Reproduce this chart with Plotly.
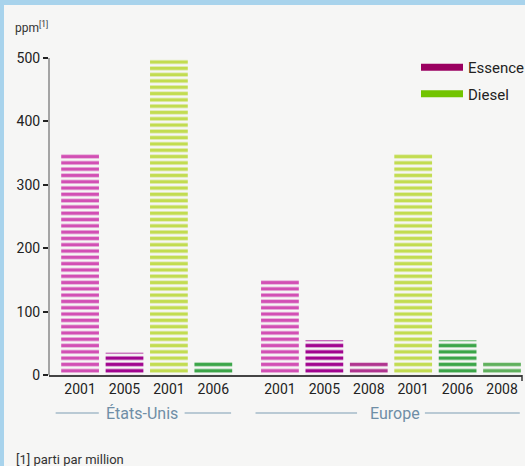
import plotly.graph_objects as go

# ---- data ----
groups = ["États-Unis", "Europe"]
essence_years = [["2001", "2005"], ["2001", "2005", "2008"]]
essence_values = [[350, 35], [150, 55, 20]]
diesel_years = [["2001", "2006"], ["2001", "2006", "2008"]]
diesel_values = [[500, 22], [350, 55, 20]]
y_ticks = [0, 100, 200, 300, 400, 500]

# ---- styles ----
ess_colors = {"2001": "#d24fb4", "2005": "#a1058f", "2008": "#b0348f"}
die_colors = {"2001": "#c2dc50", "2006": "#3ba548", "2008": "#5fb05c"}
FONT = "Roboto, Liberation Sans Narrow, sans-serif"

# positions: bars in order, with half a slot gap between groups
ess_x, ess_y, ess_c = [], [], []
die_x, die_y, die_c = [], [], []
tickvals, ticktext = [], []
group_spans = []
pos = 0.0
for g in range(len(groups)):
    start = pos
    for yr, v in zip(essence_years[g], essence_values[g]):
        ess_x.append(pos); ess_y.append(v); ess_c.append(ess_colors[yr])
        tickvals.append(pos); ticktext.append(yr)
        pos += 1
    for yr, v in zip(diesel_years[g], diesel_values[g]):
        die_x.append(pos); die_y.append(v); die_c.append(die_colors[yr])
        tickvals.append(pos); ticktext.append(yr)
        pos += 1
    group_spans.append((start, pos - 1))
    pos += 0.5

fig = go.Figure()
for xs, ys, cs, name in [(ess_x, ess_y, ess_c, "Essence"), (die_x, die_y, die_c, "Diesel")]:
    fig.add_trace(go.Bar(
        x=xs, y=ys, width=0.85, showlegend=False, name=name, opacity=1,
        marker=dict(color="rgba(0,0,0,0)", opacity=1, line=dict(width=0),
                    pattern=dict(shape="-", fgcolor=cs, fgopacity=1, bgcolor="rgba(0,0,0,0)",
                                 size=6.3, solidity=0.55, fillmode="overlay")),
    ))

# legend entries
fig.add_trace(go.Scatter(x=[None], y=[None], mode="lines", name="Essence", legendgroup="e",
                         line=dict(color="#9a0060", width=7)))
fig.add_trace(go.Scatter(x=[None], y=[None], mode="lines", name="Diesel", legendgroup="d",
                         line=dict(color="#72c400", width=7)))

W, H = 525, 466
L, R, T, B = 49, 3, 40, 91
pw, ph = W - L - R, H - T - B

def px(p):
    return (p - L) / pw

def py(q):
    return (H - B - q) / ph

shapes = [
    # panel background inside the light blue frame
    dict(type="rect", xref="paper", yref="paper", x0=px(4), x1=px(W + 5), y0=py(H + 5), y1=py(5),
         fillcolor="#f6f6f5", line=dict(width=0), layer="below"),
]
annotations = []
text_half_px = [(48, 38), (34, 34)]  # gap half-widths around the group label (px)
for g, (a, b) in enumerate(group_spans):
    mid = (a + b) / 2
    x_per_px = 1 / 44.5
    shapes.append(dict(type="line", xref="x", yref="paper", x0=a - 0.55, x1=mid - text_half_px[g][0] * x_per_px,
                       y0=py(413), y1=py(413), line=dict(color="#7d9db3", width=1)))
    shapes.append(dict(type="line", xref="x", yref="paper", x0=mid + text_half_px[g][1] * x_per_px,
                       x1=b + 0.4, y0=py(413), y1=py(413), line=dict(color="#7d9db3", width=1)))
    annotations.append(dict(x=mid + (-0.1 if g == 0 else 0.1), y=py(413), xref="x", yref="paper",
                            text=groups[g], showarrow=False,
                            font=dict(family=FONT, size=16, color="#6f8ea6"),
                            xanchor="center", yanchor="middle"))

annotations.append(dict(x=px(13), y=py(27), xref="paper", yref="paper",
                        text="ppm<sup>[1]</sup>", showarrow=False, xanchor="left", yanchor="middle",
                        font=dict(family=FONT, size=12, color="#333333")))
annotations.append(dict(x=px(14), y=py(459), xref="paper", yref="paper",
                        text="[1] parti par million", showarrow=False, xanchor="left", yanchor="middle",
                        font=dict(family=FONT, size=13, color="#333333")))

# small end tick at right of x axis
shapes.append(dict(type="line", xref="paper", yref="paper", x0=px(522), x1=px(522),
                   y0=py(375), y1=py(381), line=dict(color="#333333", width=1.5)))
# y axis line from 0 to 500
shapes.append(dict(type="line", xref="paper", yref="y", x0=0, x1=0, y0=0, y1=max(y_ticks),
                   line=dict(color="#888888", width=1.5)))

fig.update_layout(
    width=W, height=H,
    margin=dict(l=L, r=R, t=T, b=B, pad=0, autoexpand=False),
    paper_bgcolor="#a8d3ec", plot_bgcolor="rgba(0,0,0,0)",
    font=dict(family=FONT, size=13, color="#222222"),
    barmode="overlay",
    shapes=shapes, annotations=annotations,
    legend=dict(x=px(416), y=py(51), xanchor="left", yanchor="top",
                bgcolor="rgba(0,0,0,0)", font=dict(family=FONT, size=15, color="#222222"),
                itemwidth=42, tracegroupgap=4),
    xaxis=dict(range=[-0.7, 9.95], tickvals=tickvals, ticktext=ticktext,
               showgrid=False, zeroline=False, showline=True, linecolor="#444444", linewidth=1.5,
               ticks="", tickfont=dict(family=FONT, size=14, color="#222222"), automargin=False),
    yaxis=dict(range=[0, (H - B - T) / 0.634], tickvals=y_ticks, showgrid=False, zeroline=False,
               showline=False, ticks="outside", ticklen=5, tickcolor="#222222", tickwidth=1.5,
               tickfont=dict(family=FONT, size=14, color="#222222"), automargin=False),
)

fig.write_html("out.html", config={"displayModeBar": False},
               post_script="document.body.style.margin='0';document.body.style.overflow='hidden';")
